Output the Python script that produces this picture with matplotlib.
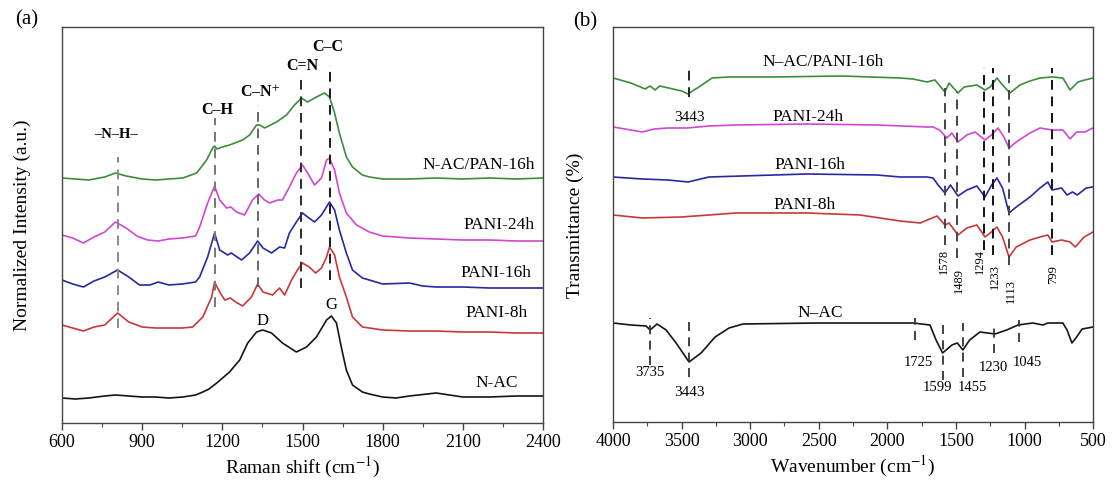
import matplotlib.pyplot as plt
from matplotlib.ticker import MultipleLocator

plt.rcParams['font.family'] = ['Liberation Serif', 'DejaVu Serif']
plt.rcParams['mathtext.fontset'] = 'stix'

# ---- (a) Raman, intensities in a.u. (curves already stacked) ----
ram_green_x = [600, 650, 700, 760, 800, 840, 900, 950, 1000, 1052, 1104, 1141, 1164, 1171, 1180, 1200,
               1227, 1276, 1302, 1328, 1340, 1358, 1403, 1440, 1470, 1496, 1519, 1552, 1582, 1601,
               1620, 1638, 1664, 1687, 1724, 1750, 1800, 1900, 2000, 2100, 2200, 2300, 2400]
ram_green_y = [245, 244, 243, 246, 250, 247, 244, 243, 244, 245, 250, 263, 275, 277, 274, 276,
               278, 283, 288, 298, 298, 295, 301, 308, 318, 325, 321, 326, 330, 326,
               310, 290, 266, 256, 248, 246, 244, 244, 245, 244, 245, 244, 245]

ram_mag_x = [600, 640, 680, 720, 760, 800, 840, 880, 920, 960, 1000, 1050, 1100, 1115, 1145, 1171,
             1190, 1216, 1232, 1253, 1283, 1313, 1336, 1358, 1377, 1407, 1425, 1451, 1477, 1500,
             1519, 1545, 1571, 1590, 1601, 1620, 1638, 1664, 1702, 1750, 1800, 1900, 2000, 2100,
             2200, 2300, 2400]
ram_mag_y = [188, 185, 180, 186, 191, 201, 195, 187, 183, 182, 184, 185, 187, 196, 220, 237,
             223, 215, 216, 211, 208, 223, 229, 223, 220, 223, 223, 236, 250, 258,
             250, 238, 245, 263, 265, 253, 230, 210, 198, 191, 187, 185, 184, 183,
             183, 182, 182]

ram_blue_x = [600, 640, 680, 720, 760, 808, 850, 890, 929, 960, 1000, 1050, 1100, 1115, 1145, 1171,
              1190, 1220, 1233, 1272, 1302, 1332, 1352, 1384, 1414, 1433, 1451, 1477, 1500, 1519,
              1545, 1571, 1601, 1620, 1638, 1664, 1687, 1724, 1750, 1800, 1900, 1950, 2000, 2100,
              2200, 2300, 2400]
ram_blue_y = [143, 139, 136, 142, 146, 153, 146, 138, 138, 141, 138, 139, 141, 146, 166, 190,
              173, 168, 170, 163, 170, 182, 175, 170, 176, 175, 190, 201, 210, 206,
              201, 208, 221, 213, 193, 170, 153, 145, 143, 139, 140, 137, 136, 136,
              135, 135, 135]

ram_red_x = [600, 640, 680, 720, 760, 808, 850, 900, 950, 1000, 1050, 1089, 1127, 1160, 1171, 1190,
             1209, 1230, 1250, 1276, 1309, 1332, 1352, 1388, 1414, 1433, 1459, 1481, 1500, 1525,
             1549, 1571, 1590, 1601, 1620, 1638, 1664, 1687, 1724, 1750, 1800, 1900, 2000, 2100,
             2200, 2300, 2400]
ram_red_y = [98, 95, 92, 96, 98, 110, 101, 96, 95, 95, 95, 96, 106, 126, 141, 131,
             123, 125, 121, 117, 126, 139, 131, 128, 135, 128, 143, 153, 160, 156,
             150, 155, 166, 176, 168, 146, 126, 106, 96, 95, 93, 92, 92, 91,
             91, 90, 90]

ram_black_x = [600, 650, 700, 760, 800, 850, 900, 950, 1000, 1052, 1100, 1127, 1150, 1179, 1227, 1265,
               1295, 1328, 1351, 1384, 1425, 1477, 1515, 1552, 1590, 1608, 1627, 1645, 1664, 1687,
               1724, 1750, 1800, 1850, 1900, 2000, 2050, 2100, 2200, 2300, 2400]
ram_black_y = [25, 24, 25, 27, 28, 27, 26, 26, 25, 26, 28, 31, 34, 40, 51, 63,
               80, 91, 93, 90, 80, 71, 76, 86, 103, 107, 100, 76, 53, 38,
               31, 29, 26, 25, 27, 30, 28, 26, 26, 27, 27]

ram_names = ['N-AC/PAN-16h', 'PANI-24h', 'PANI-16h', 'PANI-8h', 'N-AC']
ram_name_x = [2160, 2235, 2225, 2225, 2225]
ram_name_y = [258, 198, 150, 110, 40]

# band markers: label, position, line top, line bottom, label x, label y
band_labels = ['\u2013N\u2013H\u2013', 'C\u2013H', 'C\u2013N$^{+}$', 'C=N', 'C\u2013C']
band_pos = [808, 1171, 1332, 1496, 1601]
band_top = [266, 305, 318, 348, 358]
band_bot = [95, 116, 136, 135, 143]
band_lab_x = [802, 1180, 1340, 1500, 1595]
band_lab_y = [288, 313, 330, 357, 376]

# ---- (b) FTIR, transmittance (curves already stacked) ----
ir_green_x = [4000, 3870, 3800, 3767, 3730, 3694, 3660, 3563, 3500, 3453, 3410, 3373, 3278, 3154, 2841,
              2330, 1908, 1813, 1711, 1653, 1580, 1550, 1485, 1440, 1347, 1288, 1250, 1201, 1160, 1106,
              1033, 960, 887, 799, 720, 668, 610, 560, 500]
ir_green_y = [344, 339, 335, 333, 336, 332, 336, 333, 331, 328, 332, 335, 344, 345, 345,
              346, 344, 343, 340, 342, 330, 339, 329, 335, 337, 332, 335, 344, 337, 329,
              337, 341, 344, 345, 344, 332, 340, 342, 344]

ir_mag_x = [4000, 3870, 3788, 3700, 3600, 3460, 3300, 3103, 2586, 2075, 1711, 1667, 1620, 1566, 1530,
            1485, 1420, 1361, 1288, 1240, 1193, 1150, 1113, 1060, 960, 887, 799, 720, 668, 620,
            560, 500]
ir_mag_y = [295, 292, 290, 293, 294, 294, 296, 297, 298, 297, 295, 295, 292, 284, 289,
            280, 287, 290, 282, 287, 294, 285, 274, 280, 289, 294, 292, 292, 283, 290,
            290, 294]

ir_blue_x = [4000, 3788, 3600, 3453, 3300, 2586, 2075, 1908, 1711, 1667, 1630, 1580, 1540, 1485, 1420,
             1347, 1288, 1240, 1201, 1160, 1113, 1060, 960, 887, 830, 799, 730, 690, 650, 615,
             550, 500]
ir_blue_y = [245, 243, 242, 240, 245, 248, 247, 245, 245, 244, 237, 229, 237, 226, 232,
             236, 225, 237, 244, 234, 209, 215, 225, 234, 240, 232, 234, 227, 230, 227,
             234, 235]

ir_red_x = [4000, 3788, 3500, 3103, 2586, 2200, 1908, 1760, 1638, 1580, 1550, 1485, 1420, 1347, 1288,
            1250, 1201, 1160, 1113, 1060, 960, 887, 830, 799, 730, 668, 630, 565, 500]
ir_red_y = [207, 204, 205, 209, 209, 207, 201, 199, 206, 197, 199, 187, 194, 197, 185,
            189, 195, 185, 165, 175, 182, 185, 187, 180, 182, 180, 175, 185, 190]

ir_black_x = [4000, 3870, 3759, 3730, 3679, 3613, 3540, 3446, 3358, 3256, 3154, 3052, 2500, 1813, 1689,
              1645, 1597, 1529, 1490, 1449, 1400, 1325, 1215, 1130, 1047, 940, 865, 830, 720, 690,
              654, 620, 580, 500]
ir_black_y = [99, 97, 96, 92, 98, 92, 79, 60, 69, 85, 94, 98, 99, 99, 97,
              82, 69, 77, 79, 72, 82, 90, 88, 92, 97, 99, 97, 99, 99, 92,
              79, 85, 93, 95]

ir_names = ['N\u2013AC/PANI-16h', 'PANI-24h', 'PANI-16h', 'PANI-8h', 'N\u2013AC']
ir_name_x = [2469, 2579, 2564, 2600, 2491]
ir_name_y = [360, 305, 257, 217, 109]

# PANI bands (vertical labels)
pani_labels = ['1578', '1489', '1294', '1233', '1113', '799']
pani_pos = [1578, 1489, 1294, 1233, 1113, 799]
pani_top = [334, 330, 354, 354, 347, 354]
pani_bot = [177, 164, 172, 167, 157, 167]
pani_lab_x = [1590, 1480, 1325, 1218, 1100, 790]
pani_lab_y = [161, 141, 160, 145, 131, 147]

# N-AC bands
nac_labels = ['3735', '3443', '1725', '1599', '1455', '1230', '1045']
nac_pos = [3730, 3446, 1795, 1594, 1449, 1222, 1040]
nac_top = [104, 102, 104, 97, 99, 99, 102]
nac_bot = [57, 45, 82, 42, 45, 69, 80]
nac_lab_x = [3730, 3446, 1777, 1638, 1383, 1230, 982]
nac_lab_y = [49, 29, 59, 34, 34, 54, 59]

colors = ['#3c8c3c', '#d048d0', '#2828a0', '#c83838', '#151515']
spine_col = '#444444'

fig = plt.figure(figsize=(11.13, 4.82), dpi=100)
ax1 = fig.add_axes([0.0557, 0.1224, 0.4322, 0.8216])
ax2 = fig.add_axes([0.5508, 0.1245, 0.4313, 0.8195])

# ---------- panel (a) ----------
ram_curves = [(ram_green_x, ram_green_y), (ram_mag_x, ram_mag_y), (ram_blue_x, ram_blue_y),
              (ram_red_x, ram_red_y), (ram_black_x, ram_black_y)]
for (xs, ys), c in zip(ram_curves, colors):
    ax1.plot(xs, ys, color=c, lw=1.2)

band_cols = ['#8a8a8a', '#777777', '#666666', '#2a2a2a', '#1a1a1a']
for i in range(len(band_pos)):
    ax1.plot([band_pos[i], band_pos[i]], [band_bot[i], band_top[i]], color=band_cols[i],
             lw=1.4, dashes=(5, 3.5))
    fs = 10.5 if i == 0 else 11.5
    ax1.text(band_lab_x[i], band_lab_y[i], band_labels[i], ha='center', va='center',
             fontsize=fs, fontweight='bold')

ax1.text(1351, 102, 'D', ha='center', va='center', fontsize=12)
ax1.text(1609, 118, 'G', ha='center', va='center', fontsize=12)

for i, name in enumerate(ram_names):
    ax1.text(ram_name_x[i], ram_name_y[i], name, ha='center', va='center', fontsize=12.5)

ax1.set_xlim(600, 2400)
ax1.set_ylim(0, 396)
ax1.xaxis.set_major_locator(MultipleLocator(300))
ax1.xaxis.set_minor_locator(MultipleLocator(150))
ax1.set_yticks([])
ax1.set_xlabel('Raman shift (cm$^{-1}$)', fontsize=14, labelpad=3)

# ---------- panel (b) ----------
ir_curves = [(ir_green_x, ir_green_y), (ir_mag_x, ir_mag_y), (ir_blue_x, ir_blue_y),
             (ir_red_x, ir_red_y), (ir_black_x, ir_black_y)]
for (xs, ys), c in zip(ir_curves, colors):
    ax2.plot(xs, ys, color=c, lw=1.2)

# 3443 on the composite
ax2.plot([3443, 3443], [325, 354], color='#222222', lw=1.4, dashes=(5, 3.5))
ax2.text(3443, 304, '3443', ha='center', va='center', fontsize=11)

pani_cols = ['#444444', '#444444', '#111111', '#111111', '#444444', '#111111']
for i in range(len(pani_pos)):
    ax2.plot([pani_pos[i], pani_pos[i]], [pani_bot[i], pani_top[i]], color=pani_cols[i],
             lw=1.4, dashes=(5, 3.5))
    ax2.text(pani_lab_x[i], pani_lab_y[i], pani_labels[i], ha='center', va='center',
             rotation=90, fontsize=9)

for i in range(len(nac_pos)):
    ax2.plot([nac_pos[i], nac_pos[i]], [nac_bot[i], nac_top[i]], color='#333333',
             lw=1.3, dashes=(5, 3.5))
    fs = 11 if nac_labels[i] == '3443' else 10.5
    ax2.text(nac_lab_x[i], nac_lab_y[i], nac_labels[i], ha='center', va='center', fontsize=fs)

for i, name in enumerate(ir_names):
    ax2.text(ir_name_x[i], ir_name_y[i], name, ha='center', va='center', fontsize=12.5)

ax2.set_xlim(4000, 500)
ax2.set_ylim(0, 395)
ax2.xaxis.set_major_locator(MultipleLocator(500))
ax2.xaxis.set_minor_locator(MultipleLocator(250))
ax2.set_yticks([])
ax2.set_xlabel('Wavenumber (cm$^{-1}$)', fontsize=14, labelpad=3)

for ax in (ax1, ax2):
    for s in ax.spines.values():
        s.set_color(spine_col)
        s.set_linewidth(1.0)
    ax.tick_params(axis='x', which='major', direction='out', length=5, width=1.0,
                   color=spine_col, labelsize=13, pad=3)
    ax.tick_params(axis='x', which='minor', direction='out', length=3, width=0.8,
                   color=spine_col)

fig.text(0.0198, 0.533, 'Normalized Intensity (a.u.)', rotation=90, ha='center', va='center',
         fontsize=14)
fig.text(0.5166, 0.533, 'Transmittance (%)', rotation=90, ha='center', va='center', fontsize=14)
fig.text(0.024, 0.958, '(a)', ha='center', va='center', fontsize=15)
fig.text(0.5256, 0.954, '(b)', ha='center', va='center', fontsize=15)

fig.savefig('out.png', dpi=100)
